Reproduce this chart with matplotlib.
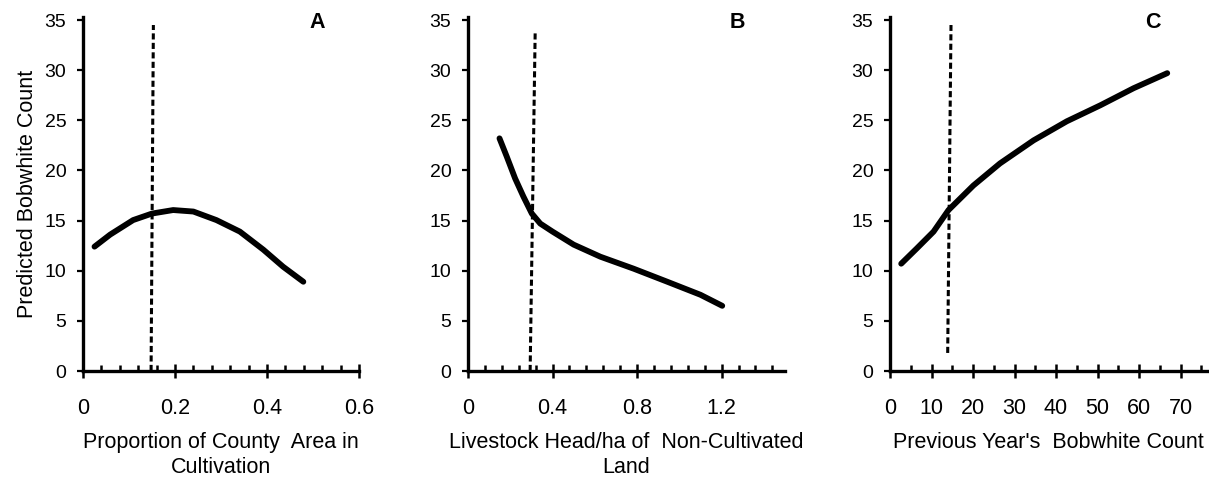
import matplotlib

matplotlib.use("Agg")
import matplotlib.pyplot as plt
from matplotlib.ticker import MultipleLocator

plt.rcParams["font.family"] = ["Liberation Sans", "DejaVu Sans"]

# panel A: proportion of county area in cultivation
cult_x = [0.025, 0.059, 0.109, 0.150, 0.196, 0.240, 0.290, 0.341, 0.392, 0.435, 0.479]
cult_y = [12.4, 13.6, 15.05, 15.7, 16.05, 15.9, 15.05, 13.9, 12.1, 10.4, 8.9]
cult_mean_x = [0.148, 0.153]
cult_mean_y = [0.0, 34.5]

# panel B: livestock head/ha of non-cultivated land
stock_x = [0.149, 0.183, 0.223, 0.262, 0.302, 0.342, 0.400, 0.500, 0.626, 0.784, 0.943, 1.100, 1.203]
stock_y = [23.2, 21.4, 19.2, 17.4, 15.7, 14.7, 13.9, 12.6, 11.4, 10.2, 8.9, 7.6, 6.5]
stock_mean_x = [0.294, 0.318]
stock_mean_y = [0.0, 34.0]

# panel C: previous year's bobwhite count
prev_x = [2.7, 6.4, 10.5, 14.1, 20.1, 26.5, 34.6, 42.6, 50.7, 58.7, 66.8]
prev_y = [10.7, 12.2, 13.9, 16.05, 18.5, 20.7, 23.0, 24.9, 26.5, 28.2, 29.7]
prev_mean_x = [13.9, 14.7]
prev_mean_y = [1.8, 34.5]

y_ticks = [0, 5, 10, 15, 20, 25, 30, 35]

panels = [
    dict(letter="A", x=cult_x, y=cult_y, mx=cult_mean_x, my=cult_mean_y,
         ticks=[0, 0.2, 0.4, 0.6], labels=["0", "0.2", "0.4", "0.6"], minor=0.04,
         xlim=(0, 0.6), letter_x=0.51,
         xlabel="Proportion of County  Area in\nCultivation",
         rect=[83 / 1209, 109 / 480, 276 / 1209, 354 / 480]),
    dict(letter="B", x=stock_x, y=stock_y, mx=stock_mean_x, my=stock_mean_y,
         ticks=[0, 0.4, 0.8, 1.2], labels=["0", "0.4", "0.8", "1.2"], minor=0.08,
         xlim=(0, 1.5), letter_x=1.275,
         xlabel="Livestock Head/ha of  Non-Cultivated\nLand",
         rect=[468 / 1209, 109 / 480, 317 / 1209, 354 / 480]),
    dict(letter="C", x=prev_x, y=prev_y, mx=prev_mean_x, my=prev_mean_y,
         ticks=[0, 10, 20, 30, 40, 50, 60, 70],
         labels=["0", "10", "20", "30", "40", "50", "60", "70"], minor=5,
         xlim=(0, 76.5), letter_x=63.4,
         xlabel="Previous Year's  Bobwhite Count",
         rect=[890 / 1209, 109 / 480, 317.5 / 1209, 354 / 480]),
]

fig = plt.figure(figsize=(12.09, 4.8), dpi=100)

for i, p in enumerate(panels):
    ax = fig.add_axes(p["rect"])
    ax.plot(p["x"], p["y"], color="black", linewidth=4.2, solid_capstyle="round")
    ax.plot(p["mx"], p["my"], color="black", linewidth=2.2, linestyle=(0, (2.0, 1.1)))
    ax.set_xlim(*p["xlim"])
    ax.set_ylim(0, 35.3)
    for side in ("top", "right"):
        ax.spines[side].set_visible(False)
    for side in ("left", "bottom"):
        ax.spines[side].set_linewidth(2.4)
    ax.set_xticks(p["ticks"])
    ax.set_xticklabels(p["labels"])
    ax.xaxis.set_minor_locator(MultipleLocator(p["minor"]))
    ax.set_yticks(y_ticks)
    ax.tick_params(axis="x", which="major", direction="inout", length=10.5, width=1.8,
                   labelsize=15.5, pad=14.5)
    ax.tick_params(axis="x", which="minor", direction="in", length=4.5, width=1.8)
    ax.tick_params(axis="y", which="major", direction="out", length=4, width=1.6,
                   labelsize=14, pad=8)
    ax.set_xlabel(p["xlabel"], fontsize=15.5, labelpad=9, linespacing=1.25)
    ax.text(p["letter_x"], 34.8, p["letter"], fontsize=15.5, fontweight="bold",
            ha="center", va="center")
    if i == 0:
        ax.set_ylabel("Predicted Bobwhite Count", fontsize=15.5, labelpad=5)

fig.savefig("out.png", dpi=100)
plt.close(fig)
